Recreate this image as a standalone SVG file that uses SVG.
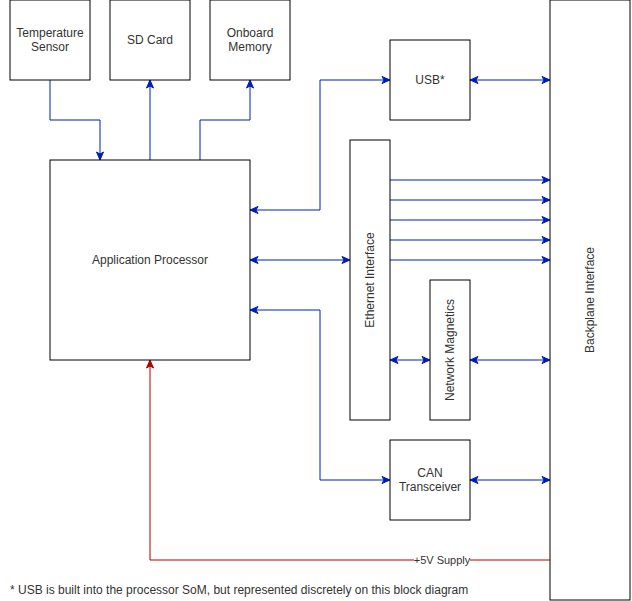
<svg xmlns="http://www.w3.org/2000/svg" width="632" height="601" viewBox="0 0 632 601">
<defs>
<style>
.n{fill:#fff;stroke:#000;stroke-width:1}
.t{font-family:"Liberation Sans",Arial,sans-serif;font-size:12px;fill:#333;text-anchor:middle}
.c{fill:none;stroke:#001DBC;stroke-width:1}
.p{fill:none;stroke:#B20000;stroke-width:1}
</style>
<marker id="a" markerUnits="userSpaceOnUse" markerWidth="10" markerHeight="10" viewBox="0 0 10 10" refX="9" refY="5" orient="auto-start-reverse">
<path d="M1,1.5 L9,5 L1,8.5 L3,5 z" fill="#001DBC" stroke="#001DBC" stroke-width="1"/>
</marker>
<marker id="r" markerUnits="userSpaceOnUse" markerWidth="10" markerHeight="10" viewBox="0 0 10 10" refX="9" refY="5" orient="auto-start-reverse">
<path d="M1,1.5 L9,5 L1,8.5 L3,5 z" fill="#B20000" stroke="#B20000" stroke-width="1"/>
</marker>
</defs>
<rect width="632" height="601" fill="#fff"/>
<g id="connectors">
<path class="c" d="M50,80 V120 H100 V160" marker-end="url(#a)"/>
<path class="c" d="M150,160 V80" marker-end="url(#a)"/>
<path class="c" d="M200,160 V120 H250 V80" marker-end="url(#a)"/>
<path class="c" d="M250,210 H320 V80 H390" marker-start="url(#a)" marker-end="url(#a)"/>
<path class="c" d="M470,80 H550" marker-start="url(#a)" marker-end="url(#a)"/>
<path class="c" d="M390,180 H550" marker-end="url(#a)"/>
<path class="c" d="M390,200 H550" marker-end="url(#a)"/>
<path class="c" d="M390,220 H550" marker-end="url(#a)"/>
<path class="c" d="M390,240 H550" marker-end="url(#a)"/>
<path class="c" d="M390,260 H550" marker-end="url(#a)"/>
<path class="c" d="M250,260 H350" marker-start="url(#a)" marker-end="url(#a)"/>
<path class="c" d="M250,310 H320 V480 H390" marker-start="url(#a)" marker-end="url(#a)"/>
<path class="c" d="M390,360 H430" marker-start="url(#a)" marker-end="url(#a)"/>
<path class="c" d="M470,360 H550" marker-start="url(#a)" marker-end="url(#a)"/>
<path class="c" d="M470,480 H550" marker-start="url(#a)" marker-end="url(#a)"/>
<path class="p" d="M550,560 H150 V360" marker-end="url(#r)"/>
<rect x="414" y="553" width="56" height="14" fill="#fff"/>
<text class="t" x="442" y="564" style="font-size:11px">+5V Supply</text>
</g>
<g id="temp"><rect class="n" x="10" y="0" width="80" height="80"/><text class="t" x="50" y="37">Temperature</text><text class="t" x="50" y="51">Sensor</text></g>
<g id="sd"><rect class="n" x="110" y="0" width="80" height="80"/><text class="t" x="150" y="44">SD Card</text></g>
<g id="mem"><rect class="n" x="210" y="0" width="80" height="80"/><text class="t" x="250" y="37">Onboard</text><text class="t" x="250" y="51">Memory</text></g>
<g id="app"><rect class="n" x="50" y="160" width="200" height="200"/><text class="t" x="150" y="264">Application Processor</text></g>
<g id="usb"><rect class="n" x="390" y="40" width="80" height="80"/><text class="t" x="430" y="84">USB*</text></g>
<g id="eth"><rect class="n" x="350" y="140" width="40" height="280"/><text class="t" transform="translate(374,280) rotate(-90)">Ethernet Interface</text></g>
<g id="mag"><rect class="n" x="430" y="280" width="40" height="140"/><text class="t" transform="translate(454,350) rotate(-90)">Network Magnetics</text></g>
<g id="can"><rect class="n" x="390" y="440" width="80" height="80"/><text class="t" x="430" y="477">CAN</text><text class="t" x="430" y="491">Transceiver</text></g>
<g id="backplane"><rect class="n" x="550" y="0" width="80" height="600"/><text class="t" transform="translate(594,300) rotate(-90)">Backplane Interface</text></g>
<text x="10" y="594" style="font-family:'Liberation Sans',Arial,sans-serif;font-size:12px;fill:#333">* USB is built into the processor SoM, but represented discretely on this block diagram</text>
</svg>
